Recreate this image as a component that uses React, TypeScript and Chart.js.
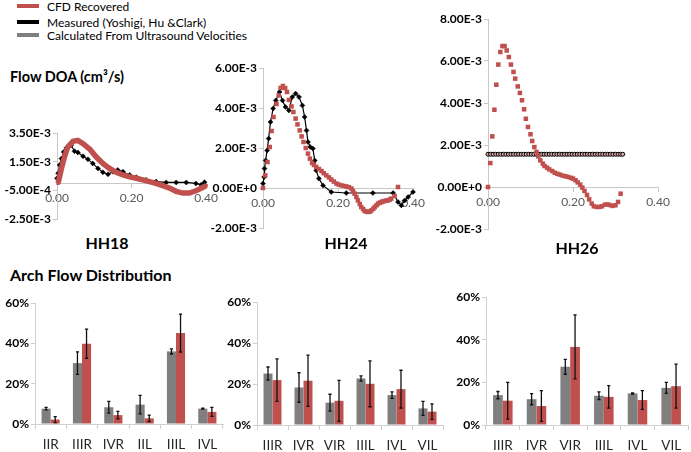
import React, { useEffect, useRef } from 'react';
import { Chart, registerables } from 'chart.js';

Chart.register(...registerables);

const FONT = 'Lato, "Open Sans", sans-serif';
const RED = '#C0504D';
const GRAY = '#7F7F7F';
const AXIS = '#C8C8C8';
const Q_UNIT = 1e-3; // flow values below are in units of 1E-3 cm^3/s

// ---------- Flow DOA data ----------
const X_TICKS = [0, 0.2, 0.4];

const HH18_Y_TICKS = [-2.5e-3, -5e-4, 1.5e-3, 3.5e-3];
const HH18_CFD_T = [0.003, 0.012, 0.02, 0.029, 0.043, 0.056, 0.07, 0.088, 0.105, 0.123, 0.141, 0.159, 0.177, 0.195, 0.213, 0.23, 0.248, 0.266, 0.284, 0.302, 0.32, 0.338, 0.355, 0.373, 0.391, 0.4];
const HH18_CFD_Q = [0, 1.03, 1.84, 2.53, 2.92, 2.99, 2.76, 2.37, 1.84, 1.38, 1.03, 0.76, 0.57, 0.44, 0.34, 0.23, 0.11, -0.02, -0.18, -0.34, -0.57, -0.69, -0.69, -0.53, -0.3, -0.18];
const HH18_MEAS_T = [0, 0.003, 0.007, 0.012, 0.018, 0.025, 0.032, 0.038, 0.047, 0.056, 0.07, 0.083, 0.096, 0.11, 0.123, 0.137, 0.15, 0.163, 0.177, 0.195, 0.213, 0.239, 0.266, 0.293, 0.32, 0.347, 0.373, 0.387, 0.396];
const HH18_MEAS_Q = [0.34, 0.69, 1.26, 1.72, 2.18, 2.46, 2.6, 2.64, 2.23, 2.14, 1.88, 1.66, 1.38, 1.03, 0.76, 0.62, 0.8, 0.92, 0.8, 0.57, 0.41, 0.23, 0.11, 0.05, 0.05, 0.05, -0.02, -0.11, 0.07];

const HH24_Y_TICKS = [-2e-3, 0, 2e-3, 4e-3, 6e-3];
const HH24_CFD_T = [0, 0.006, 0.012, 0.018, 0.023, 0.028, 0.036, 0.042, 0.047, 0.053, 0.059, 0.064, 0.069, 0.076, 0.081, 0.087, 0.092, 0.098, 0.103, 0.108, 0.114, 0.12, 0.125, 0.131, 0.136, 0.142, 0.149, 0.156, 0.162, 0.169, 0.176, 0.182, 0.189, 0.196, 0.202, 0.209, 0.216, 0.222, 0.229, 0.236, 0.24, 0.244, 0.249, 0.253, 0.258, 0.262, 0.267, 0.271, 0.276, 0.28, 0.285, 0.289, 0.294, 0.298, 0.303, 0.307, 0.312, 0.316, 0.32, 0.324, 0.329, 0.333, 0.338, 0.342, 0.351, 0.36];
const HH24_CFD_Q = [0, 0.63, 1.3, 2.05, 2.85, 3.55, 4.2, 4.63, 5.0, 5.1, 5.0, 4.8, 4.4, 4.08, 3.8, 3.47, 3.18, 2.88, 2.58, 2.3, 2.0, 1.72, 1.47, 1.25, 1.15, 1.05, 0.95, 0.85, 0.74, 0.63, 0.53, 0.42, 0.32, 0.22, 0.17, 0.13, 0.1, 0.08, 0.04, -0.03, -0.15, -0.28, -0.45, -0.62, -0.8, -0.95, -1.05, -1.15, -1.18, -1.2, -1.18, -1.12, -1.04, -0.95, -0.86, -0.78, -0.73, -0.7, -0.67, -0.65, -0.63, -0.62, -0.58, -0.53, -0.4, 0.05];
const HH24_MEAS_T = [0, 0.003, 0.004, 0.007, 0.011, 0.015, 0.02, 0.027, 0.034, 0.044, 0.052, 0.06, 0.069, 0.078, 0.087, 0.096, 0.105, 0.111, 0.116, 0.12, 0.126, 0.133, 0.138, 0.142, 0.149, 0.16, 0.182, 0.222, 0.293, 0.347, 0.36, 0.369, 0.378, 0.387, 0.4];
const HH24_MEAS_Q = [0.22, 0.55, 0.97, 1.38, 1.88, 2.47, 3.3, 3.97, 4.38, 4.8, 4.38, 4.05, 3.88, 4.55, 4.72, 4.55, 4.13, 3.55, 2.88, 2.3, 2.05, 1.97, 1.38, 0.88, 0.47, 0.13, -0.2, -0.25, -0.25, -0.25, -0.7, -0.87, -0.62, -0.45, -0.2];

const HH26_Y_TICKS = [-2e-3, 0, 2e-3, 4e-3, 6e-3, 8e-3];
const HH26_CFD_T = [0, 0.0055, 0.0102, 0.015, 0.0196, 0.0243, 0.029, 0.034, 0.039, 0.044, 0.049, 0.054, 0.06, 0.064, 0.07, 0.075, 0.08, 0.085, 0.089, 0.094, 0.1, 0.104, 0.109, 0.114, 0.118, 0.123, 0.129, 0.133, 0.139, 0.144, 0.151, 0.157, 0.163, 0.169, 0.176, 0.182, 0.188, 0.195, 0.2, 0.206, 0.211, 0.217, 0.222, 0.227, 0.233, 0.238, 0.244, 0.249, 0.256, 0.262, 0.268, 0.275, 0.281, 0.287, 0.293, 0.3, 0.306, 0.312];
const HH26_CFD_Q = [0, 1.14, 2.41, 3.68, 4.87, 5.83, 6.43, 6.71, 6.71, 6.5, 6.19, 5.83, 5.48, 5.16, 4.79, 4.48, 4.13, 3.7, 3.25, 2.86, 2.51, 2.19, 1.9, 1.67, 1.46, 1.27, 1.11, 1.0, 0.92, 0.84, 0.76, 0.68, 0.63, 0.59, 0.54, 0.51, 0.48, 0.44, 0.4, 0.32, 0.22, 0.11, -0.03, -0.19, -0.38, -0.59, -0.79, -0.92, -0.95, -0.95, -0.92, -0.84, -0.83, -0.86, -0.9, -0.87, -0.71, -0.32];
const HH26_CALC_T = [0, 0.006, 0.012, 0.018, 0.024, 0.03, 0.036, 0.042, 0.048, 0.054, 0.06, 0.066, 0.072, 0.078, 0.084, 0.09, 0.096, 0.102, 0.108, 0.114, 0.12, 0.126, 0.132, 0.138, 0.144, 0.15, 0.156, 0.162, 0.168, 0.174, 0.18, 0.186, 0.192, 0.198, 0.204, 0.21, 0.216, 0.222, 0.228, 0.234, 0.24, 0.246, 0.252, 0.258, 0.264, 0.27, 0.276, 0.282, 0.288, 0.294, 0.3, 0.306, 0.312, 0.317];
const HH26_CALC_Q = 1.56;

// ---------- Arch flow distribution data (%) ----------
const BAR_Y_TICKS = [0, 20, 40, 60];
const HH18_ARCHES = ['IIR', 'IIIR', 'IVR', 'IIL', 'IIIL', 'IVL'];
const HH18_CALC_PCT = [7.6, 30.2, 8.3, 9.6, 36.0, 7.6];
const HH18_CALC_ERR = [0.6, 5.6, 2.9, 4.6, 1.3, 0.2];
const HH18_CFD_PCT = [2.2, 39.8, 4.4, 2.8, 45.1, 6.0];
const HH18_CFD_ERR = [1.5, 7.2, 1.9, 1.6, 9.4, 2.2];

const HH24_ARCHES = ['IIIR', 'IVR', 'VIR', 'IIIL', 'IVL', 'VIL'];
const HH24_CALC_PCT = [25.1, 18.3, 10.9, 22.7, 14.6, 8.1];
const HH24_CALC_ERR = [3.2, 7.2, 4.1, 1.3, 1.6, 3.4];
const HH24_CFD_PCT = [21.9, 21.6, 11.8, 20.1, 17.5, 6.5];
const HH24_CFD_ERR = [10.4, 12.5, 10.0, 11.2, 9.2, 3.8];

const HH26_ARCHES = ['IIIR', 'IVR', 'VIR', 'IIIL', 'IVL', 'VIL'];
const HH26_CALC_PCT = [14.0, 12.1, 27.3, 13.7, 14.8, 17.4];
const HH26_CALC_ERR = [1.7, 2.6, 3.5, 1.8, 0.3, 2.6];
const HH26_CFD_PCT = [11.4, 8.9, 36.6, 13.2, 11.7, 18.2];
const HH26_CFD_ERR = [8.6, 7.2, 15.0, 5.3, 4.4, 10.3];

// ---------- helpers ----------
function pts(xs: number[], ys: number[]) {
  const n = Math.min(xs.length, ys.length);
  const out: { x: number; y: number }[] = [];
  for (let i = 0; i < n; i++) out.push({ x: xs[i], y: ys[i] * Q_UNIT });
  return out;
}

function fmtSci(v: number) {
  if (Math.abs(v) < 1e-12) return '0.00E+0';
  const e = Math.floor(Math.log10(Math.abs(v)) + 1e-9);
  const m = v / Math.pow(10, e);
  return m.toFixed(2) + 'E' + (e >= 0 ? '+' : '') + e;
}

const errorBarPlugin = {
  id: 'errorBars',
  afterDatasetsDraw(chart: any) {
    const ctx = chart.ctx;
    const ys = chart.scales.y;
    chart.data.datasets.forEach((ds: any, i: number) => {
      if (!ds.errors) return;
      const meta = chart.getDatasetMeta(i);
      meta.data.forEach((bar: any, j: number) => {
        const v = ds.data[j];
        const e = ds.errors[j];
        const x = bar.x;
        const y1 = ys.getPixelForValue(v + e);
        const y2 = ys.getPixelForValue(v - e);
        ctx.save();
        ctx.strokeStyle = '#111';
        ctx.lineWidth = 1.3;
        ctx.beginPath();
        ctx.moveTo(x, y1);
        ctx.lineTo(x, y2);
        ctx.moveTo(x - 1.6, y1);
        ctx.lineTo(x + 1.6, y1);
        ctx.moveTo(x - 1.6, y2);
        ctx.lineTo(x + 1.6, y2);
        ctx.stroke();
        ctx.restore();
      });
    });
  },
};

function lineConfig(datasets: any[], yTicks: number[], yAxisW: number, padding: any) {
  return {
    type: 'scatter',
    data: { datasets },
    options: {
      animation: false,
      responsive: false,
      layout: { padding },
      plugins: { legend: { display: false }, tooltip: { enabled: false } },
      scales: {
        x: {
          type: 'linear',
          min: 0,
          max: 0.4,
          position: { y: 0 },
          afterBuildTicks: (ax: any) => {
            ax.ticks = X_TICKS.map((v) => ({ value: v }));
          },
          ticks: {
            autoSkip: false,
            maxRotation: 0,
            callback: (v: any) => Number(v).toFixed(2),
            color: '#595959',
            font: { family: FONT, size: 12 },
            padding: 4,
          },
          grid: { drawOnChartArea: false, tickLength: 4, color: AXIS },
          border: { color: AXIS },
        },
        y: {
          type: 'linear',
          min: yTicks[0],
          max: yTicks[yTicks.length - 1],
          afterBuildTicks: (ax: any) => {
            ax.ticks = yTicks.map((v) => ({ value: v }));
          },
          afterFit: (s: any) => {
            s.width = yAxisW;
          },
          ticks: {
            autoSkip: false,
            callback: (v: any) => fmtSci(Number(v)),
            color: '#000',
            font: { family: FONT, size: 12, weight: 'bold' },
            padding: 2,
          },
          grid: { drawOnChartArea: false, tickLength: 4, color: AXIS },
          border: { color: AXIS },
        },
      },
    },
  };
}

function barConfig(labels: string[], calc: number[], calcErr: number[], cfd: number[], cfdErr: number[], padding: any) {
  return {
    type: 'bar',
    data: {
      labels,
      datasets: [
        { data: calc, errors: calcErr, backgroundColor: GRAY, categoryPercentage: 0.58, barPercentage: 1 },
        { data: cfd, errors: cfdErr, backgroundColor: RED, categoryPercentage: 0.58, barPercentage: 1 },
      ],
    },
    plugins: [errorBarPlugin],
    options: {
      animation: false,
      responsive: false,
      layout: { padding },
      plugins: { legend: { display: false }, tooltip: { enabled: false } },
      scales: {
        x: {
          afterFit: (s: any) => {
            s.height = 28;
          },
          ticks: { color: '#262626', font: { family: FONT, size: 13.5 }, padding: 8, maxRotation: 0, autoSkip: false },
          grid: { offset: true, drawOnChartArea: false, tickLength: 5, color: '#D0D0D0' },
          border: { color: '#D0D0D0' },
        },
        y: {
          min: 0,
          max: 60,
          afterBuildTicks: (ax: any) => {
            ax.ticks = BAR_Y_TICKS.map((v) => ({ value: v }));
          },
          afterFit: (s: any) => {
            s.width = 35;
          },
          ticks: {
            callback: (v: any) => v + '%',
            color: '#000',
            font: { family: FONT, size: 12, weight: 'bold' },
            padding: 2,
          },
          grid: { drawOnChartArea: false, tickLength: 4, color: '#D0D0D0' },
          border: { color: '#D0D0D0' },
        },
      },
    },
  };
}

function ChartBox({ left, top, width, height, config }: any) {
  const ref = useRef<HTMLCanvasElement | null>(null);
  useEffect(() => {
    if (!ref.current) return;
    const chart = new Chart(ref.current, config);
    return () => chart.destroy();
  }, []);
  return (
    <canvas
      ref={ref}
      width={width}
      height={height}
      style={{ position: 'absolute', left, top, width, height }}
    />
  );
}

const redSq = (data: any[]) => ({
  data,
  showLine: false,
  pointStyle: 'rect',
  pointRadius: 3.2,
  backgroundColor: RED,
  borderColor: RED,
  pointBorderWidth: 0,
  clip: false,
});

const blackDiamonds = (data: any[]) => ({
  data,
  showLine: true,
  borderColor: '#000',
  borderWidth: 1.2,
  pointStyle: 'rectRot',
  pointRadius: 2.5,
  backgroundColor: '#000',
  pointBorderColor: '#000',
  pointBorderWidth: 0.5,
  clip: false,
});

const hh18 = lineConfig(
  [
    {
      data: pts(HH18_CFD_T, HH18_CFD_Q),
      showLine: true,
      borderColor: RED,
      borderWidth: 5.5,
      pointStyle: 'rect',
      pointRadius: 2.5,
      backgroundColor: RED,
      pointBorderWidth: 0,
      clip: false,
    },
    blackDiamonds(pts(HH18_MEAS_T, HH18_MEAS_Q)),
  ],
  HH18_Y_TICKS,
  57,
  { top: 13, bottom: 13, right: 19, left: 0 }
);

const hh24 = lineConfig(
  [redSq(pts(HH24_CFD_T, HH24_CFD_Q)), blackDiamonds(pts(HH24_MEAS_T, HH24_MEAS_Q))],
  HH24_Y_TICKS,
  63,
  { top: 13, bottom: 12, right: 22, left: 0 }
);

const hh26 = lineConfig(
  [
    redSq(pts(HH26_CFD_T, HH26_CFD_Q)),
    {
      data: HH26_CALC_T.map((t) => ({ x: t, y: HH26_CALC_Q * Q_UNIT })),
      showLine: true,
      borderColor: '#000',
      borderWidth: 1,
      pointStyle: 'circle',
      pointRadius: 2,
      backgroundColor: '#D9A9A9',
      pointBorderColor: '#000',
      pointBorderWidth: 1,
      clip: false,
    },
  ],
  HH26_Y_TICKS,
  58,
  { top: 13, bottom: 13, right: 30, left: 0 }
);

const bar18 = barConfig(HH18_ARCHES, HH18_CALC_PCT, HH18_CALC_ERR, HH18_CFD_PCT, HH18_CFD_ERR, { top: 13, right: 10, left: 0, bottom: 0 });
const bar24 = barConfig(HH24_ARCHES, HH24_CALC_PCT, HH24_CALC_ERR, HH24_CFD_PCT, HH24_CFD_ERR, { top: 13, right: 10, left: 0, bottom: 0 });
const bar26 = barConfig(HH26_ARCHES, HH26_CALC_PCT, HH26_CALC_ERR, HH26_CFD_PCT, HH26_CFD_ERR, { top: 13, right: 3, left: 0, bottom: 0 });

const textBase: React.CSSProperties = { position: 'absolute', fontFamily: FONT, whiteSpace: 'nowrap', color: '#000' };

function LegendRow({ color, label, y }: { color: string; label: string; y: number }) {
  return (
    <>
      <div style={{ position: 'absolute', left: 17, top: y - 2, width: 22, height: 4, background: color }} />
      <div style={{ ...textBase, left: 47, top: y - 7, fontSize: 12, lineHeight: '16px' }}>{label}</div>
    </>
  );
}

export default function App() {
  return (
    <div style={{ position: 'absolute', left: 0, top: 0, width: 691, height: 452, background: '#fff', overflow: 'hidden' }}>
      <LegendRow color={RED} label="CFD Recovered" y={6} />
      <LegendRow color="#000" label="Measured (Yoshigi, Hu &Clark)" y={22} />
      <LegendRow color={GRAY} label="Calculated From Ultrasound Velocities" y={35} />

      <div style={{ ...textBase, left: 10, top: 67, fontSize: 14.5, fontWeight: 700, lineHeight: '20px' }}>Flow DOA (cm³/s)</div>

      <ChartBox left={0} top={120} width={225} height={112} config={hh18} />
      <ChartBox left={200} top={55} width={235} height={185} config={hh24} />
      <ChartBox left={430} top={6} width={258} height={236} config={hh26} />

      <div style={{ ...textBase, left: 67, width: 80, textAlign: 'center', top: 232, fontSize: 16, fontWeight: 700, lineHeight: '22px' }}>HH18</div>
      <div style={{ ...textBase, left: 306, width: 80, textAlign: 'center', top: 232, fontSize: 16, fontWeight: 700, lineHeight: '22px' }}>HH24</div>
      <div style={{ ...textBase, left: 537, width: 80, textAlign: 'center', top: 237, fontSize: 16, fontWeight: 700, lineHeight: '22px' }}>HH26</div>

      <div style={{ ...textBase, left: 10, top: 264, fontSize: 16, fontWeight: 700, lineHeight: '22px' }}>Arch Flow Distribution</div>

      <ChartBox left={0} top={290} width={233} height={162} config={bar18} />
      <ChartBox left={222} top={289} width={231} height={164} config={bar24} />
      <ChartBox left={451} top={284} width={240} height={169} config={bar26} />
    </div>
  );
}
